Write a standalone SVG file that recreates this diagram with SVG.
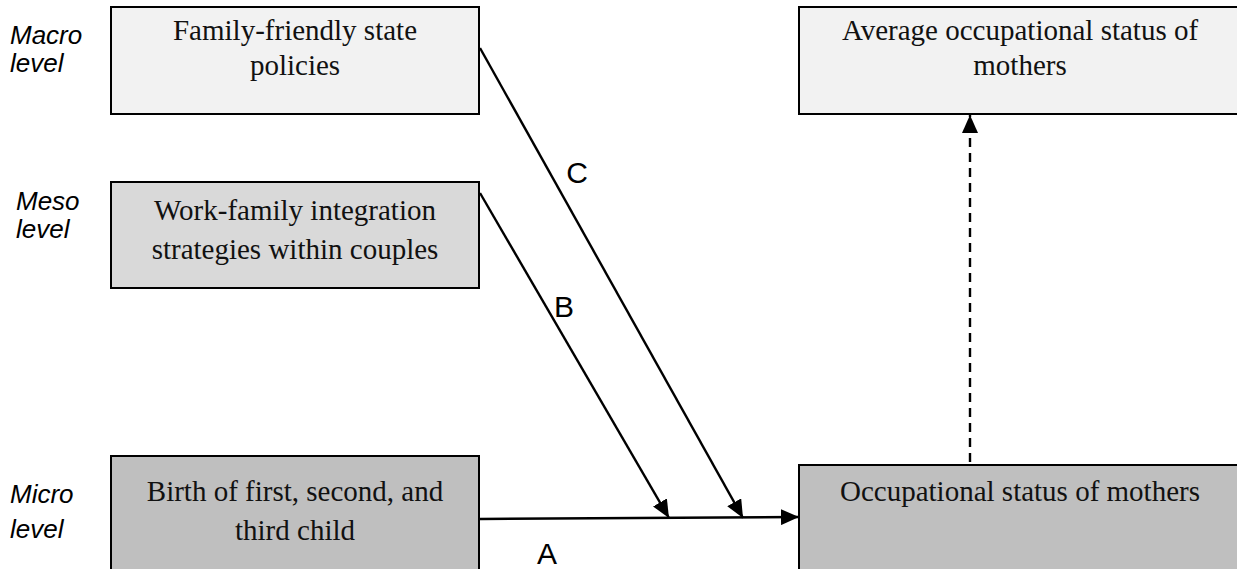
<svg xmlns="http://www.w3.org/2000/svg" width="1237" height="569" viewBox="0 0 1237 569">
  <style>
    .box { stroke: #000; stroke-width: 2; }
    .macro { fill: #f2f2f2; }
    .meso { fill: #d9d9d9; }
    .micro { fill: #bfbfbf; }
    .node-text { font-family: "Liberation Serif", "Times New Roman", serif; font-size: 29px; fill: #111; text-anchor: middle; }
    .level { font-family: "Liberation Sans", Arial, sans-serif; font-size: 26px; font-style: italic; fill: #000; }
    .edge-label { font-family: "Liberation Sans", Arial, sans-serif; font-size: 30px; fill: #000; text-anchor: middle; }
    .edge { stroke: #000; stroke-width: 2.4; fill: none; }
    .dashed { stroke-dasharray: 9 6; }
  </style>
  <defs>
    <marker id="arrow" markerWidth="18" markerHeight="16" refX="18" refY="8" orient="auto" markerUnits="userSpaceOnUse">
      <path d="M0,0 L18,8 L0,16 Z" fill="#000"/>
    </marker>
  </defs>

  <rect x="0" y="0" width="1237" height="569" fill="#fff"/>

  <!-- level labels -->
  <g id="levels">
    <text class="level" x="10" y="44">Macro</text>
    <text class="level" x="10" y="72">level</text>
    <text class="level" x="16" y="210">Meso</text>
    <text class="level" x="16" y="238">level</text>
    <text class="level" x="10" y="503">Micro</text>
    <text class="level" x="10" y="538">level</text>
  </g>

  <g id="policies">
    <rect class="box macro" x="111" y="7" width="368" height="107"/>
    <text class="node-text" x="295" y="40">Family-friendly state</text>
    <text class="node-text" x="295" y="75">policies</text>
  </g>

  <g id="average-status">
    <rect class="box macro" x="799" y="7" width="445" height="107"/>
    <text class="node-text" x="1020" y="40">Average occupational status of</text>
    <text class="node-text" x="1020" y="75">mothers</text>
  </g>

  <g id="strategies">
    <rect class="box meso" x="111" y="182" width="368" height="106"/>
    <text class="node-text" x="295" y="220">Work-family integration</text>
    <text class="node-text" x="295" y="259">strategies within couples</text>
  </g>

  <g id="births">
    <rect class="box micro" x="111" y="456" width="368" height="130"/>
    <text class="node-text" x="295" y="501">Birth of first, second, and</text>
    <text class="node-text" x="295" y="540">third child</text>
  </g>

  <g id="occupational-status">
    <rect class="box micro" x="799" y="465" width="445" height="130"/>
    <text class="node-text" x="1020" y="501">Occupational status of mothers</text>
  </g>

  <g id="connectors">
    <line class="edge" x1="480" y1="519" x2="799" y2="517" marker-end="url(#arrow)"/>
    <line class="edge" x1="480" y1="193" x2="669" y2="518" marker-end="url(#arrow)"/>
    <line class="edge" x1="480" y1="48" x2="743" y2="518" marker-end="url(#arrow)"/>
    <line class="edge dashed" x1="970" y1="462" x2="970" y2="115" marker-end="url(#arrow)"/>
    <text class="edge-label" x="547" y="564">A</text>
    <text class="edge-label" x="564" y="317">B</text>
    <text class="edge-label" x="577" y="183">C</text>
  </g>
</svg>
